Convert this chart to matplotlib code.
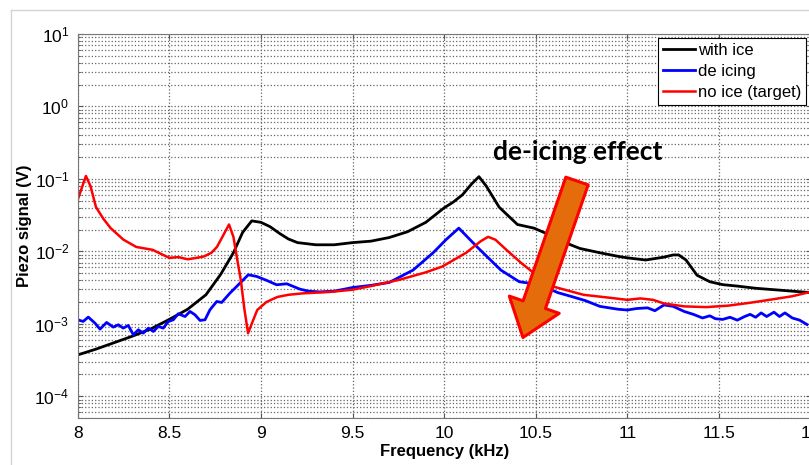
import numpy as np
import matplotlib.pyplot as plt
from matplotlib.patches import ArrowStyle
from matplotlib.lines import Line2D

# valores (frecuencia en kHz, log10 de la tension en V)
black_f = [8.00, 8.10, 8.20, 8.30, 8.40, 8.50, 8.60, 8.70, 8.78, 8.85, 8.90, 8.95, 9.00,
           9.05, 9.10, 9.15, 9.20, 9.30, 9.40, 9.50, 9.60, 9.70, 9.80, 9.90, 9.96, 10.00,
           10.05, 10.10, 10.15, 10.19, 10.23, 10.30, 10.40, 10.49, 10.60, 10.69, 10.74,
           10.85, 10.95, 11.00, 11.10, 11.20, 11.25, 11.28, 11.32, 11.38, 11.45, 11.52,
           11.60, 11.70, 11.80, 11.90, 12.00]
black_log = [-3.43, -3.35, -3.26, -3.17, -3.07, -2.94, -2.80, -2.60, -2.32, -2.02, -1.74,
             -1.58, -1.60, -1.66, -1.75, -1.83, -1.88, -1.91, -1.91, -1.88, -1.86, -1.81,
             -1.73, -1.60, -1.48, -1.40, -1.32, -1.22, -1.07, -0.97, -1.10, -1.39, -1.63,
             -1.68, -1.80, -1.91, -1.96, -2.02, -2.07, -2.09, -2.12, -2.08, -2.05, -2.05,
             -2.12, -2.33, -2.42, -2.46, -2.48, -2.51, -2.53, -2.55, -2.57]

blue_f = [8.000, 8.030, 8.058, 8.094, 8.122, 8.158, 8.194, 8.222, 8.249, 8.276, 8.304,
          8.331, 8.358, 8.386, 8.413, 8.440, 8.467, 8.495, 8.522, 8.549, 8.586, 8.613,
          8.640, 8.668, 8.695, 8.722, 8.759, 8.786, 8.831, 8.886, 8.931, 8.977, 9.032,
          9.086, 9.141, 9.213, 9.26, 9.32, 9.40, 9.50, 9.60, 9.70, 9.83, 9.94, 10.01,
          10.08, 10.18, 10.31, 10.41, 10.52, 10.62, 10.69, 10.77, 10.85, 10.95, 11.00,
          11.05, 11.11, 11.15, 11.20, 11.25, 11.31, 11.36, 11.41, 11.45, 11.48, 11.52,
          11.56, 11.60, 11.64, 11.67, 11.70, 11.73, 11.76, 11.80, 11.83, 11.86, 11.90,
          11.94, 11.98]
blue_log = [-2.945, -2.968, -2.908, -2.990, -3.074, -2.982, -3.046, -3.014, -3.060, -3.023,
            -3.152, -3.083, -3.129, -3.060, -3.106, -3.037, -3.060, -2.968, -2.945, -2.862,
            -2.900, -2.830, -2.876, -2.954, -2.945, -2.807, -2.692, -2.706, -2.577, -2.439,
            -2.324, -2.347, -2.402, -2.462, -2.448, -2.522, -2.55, -2.56, -2.55, -2.50,
            -2.47, -2.43, -2.26, -2.02, -1.84, -1.68, -1.94, -2.26, -2.42, -2.46, -2.57,
            -2.62, -2.68, -2.76, -2.80, -2.81, -2.79, -2.78, -2.82, -2.74, -2.76, -2.83,
            -2.87, -2.92, -2.89, -2.93, -2.94, -2.91, -2.95, -2.90, -2.87, -2.91, -2.85,
            -2.90, -2.84, -2.90, -2.85, -2.92, -2.95, -3.01]

red_f = [8.00, 8.045, 8.07, 8.10, 8.14, 8.18, 8.25, 8.32, 8.41, 8.45, 8.50, 8.55, 8.60,
         8.65, 8.69, 8.73, 8.76, 8.79, 8.826, 8.85, 8.87, 8.89, 8.91, 8.93, 8.95, 8.98,
         9.03, 9.09, 9.15, 9.23, 9.38, 9.50, 9.60, 9.76, 9.90, 9.99, 10.12, 10.20, 10.24,
         10.28, 10.34, 10.42, 10.49, 10.60, 10.76, 10.90, 11.00, 11.07, 11.14, 11.20,
         11.31, 11.43, 11.55, 11.67, 11.80, 11.90, 12.00]
red_log = [-1.29, -0.96, -1.10, -1.39, -1.55, -1.68, -1.84, -1.94, -1.98, -2.03, -2.09,
           -2.08, -2.11, -2.09, -2.07, -2.02, -1.94, -1.80, -1.63, -1.80, -2.10, -2.39,
           -2.80, -3.13, -3.00, -2.81, -2.70, -2.63, -2.60, -2.58, -2.56, -2.53, -2.48,
           -2.39, -2.29, -2.21, -2.02, -1.86, -1.80, -1.84, -1.98, -2.16, -2.30, -2.49,
           -2.60, -2.64, -2.67, -2.65, -2.67, -2.72, -2.76, -2.77, -2.75, -2.71, -2.66,
           -2.62, -2.56]

labels = ['with ice', 'de icing', 'no ice (target)']
xticks = [8, 8.5, 9, 9.5, 10, 10.5, 11, 11.5, 12]

plt.rcParams['font.family'] = ['Liberation Sans', 'DejaVu Sans']

fig = plt.figure(figsize=(8.09, 4.65), dpi=100, facecolor='white')
ax = fig.add_axes([0.096, 0.101, 0.906, 0.826])

ax.plot(black_f, 10 ** np.array(black_log), color='black', lw=2.0, label=labels[0])
ax.plot(blue_f, 10 ** np.array(blue_log), color='blue', lw=2.0, label=labels[1])
ax.plot(red_f, 10 ** np.array(red_log), color='red', lw=1.8, label=labels[2])

ax.set_yscale('log')
ax.set_xlim(8, 12)
ax.set_ylim(5e-5, 10)
ax.set_xticks(xticks)
ax.set_xticklabels([f'{t:g}' for t in xticks])
ax.set_yticks([1e-4, 1e-3, 1e-2, 1e-1, 1, 10])

# rejilla punteada estilo matlab
ax.grid(True, which='major', axis='both', ls=':', color='#666666', lw=0.9)
ax.grid(True, which='minor', axis='y', ls=':', color='#666666', lw=0.9)
ax.tick_params(which='both', direction='in', top=True, right=True, labelsize=12.5,
               color='#555555', pad=6)
for s in ax.spines.values():
    s.set_color('#777777')

ax.set_xlabel('Frequency (kHz)', fontsize=12, fontweight='bold')
ax.set_ylabel('Piezo signal (V)', fontsize=12, fontweight='bold')
ax.xaxis.set_label_coords(0.5, -0.068)
ax.yaxis.set_label_coords(-0.062, 0.5)

leg = ax.legend(loc='upper right', fontsize=12, fancybox=False, framealpha=1,
                edgecolor='black', handlelength=1.9, handletextpad=0.2,
                borderaxespad=0.25, labelspacing=0.35, borderpad=0.3)
leg.get_frame().set_linewidth(0.8)

# flecha del efecto de deshielo
ax.text(10.73, 0.235, 'de-icing effect', fontsize=19, fontweight='bold',
        family='Lato', ha='center', va='center')
ax.annotate('', xy=(10.43, 10 ** -3.19), xytext=(10.725, 10 ** -1.03),
            arrowprops=dict(arrowstyle=ArrowStyle.Simple(head_length=25, head_width=38,
                                                         tail_width=17),
                            mutation_scale=1, fc='#E46C0A', ec='red', lw=2.2,
                            shrinkA=0, shrinkB=0))

# borde de la captura
fig.add_artist(Line2D([0.0136, 1], [0.9785, 0.9785], color='#d4d4d4', lw=1))
fig.add_artist(Line2D([0.0136, 0.0136], [0, 0.9785], color='#d4d4d4', lw=1))

fig.savefig('out.png', dpi=100, facecolor='white')
